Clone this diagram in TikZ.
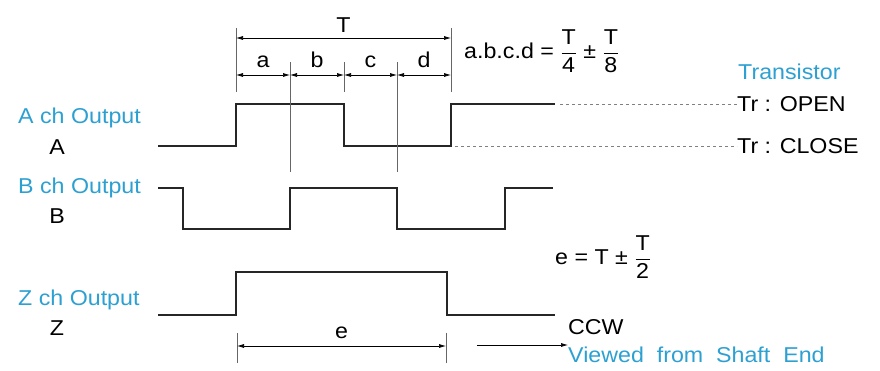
\documentclass[tikz,border=0pt]{standalone}
\usepackage{fontspec}
\setmainfont{Liberation Sans}[FakeStretch=1.08]
\usetikzlibrary{arrows.meta}
\definecolor{chblue}{RGB}{45,160,210}
\newcommand{\tfrac}[2]{$\displaystyle\frac{\mbox{#1}}{\mbox{#2}}$}
\tikzset{
  wave/.style={line width=1.4pt,black!85},
  guide/.style={line width=0.6pt,black!60},
  dim/.style={line width=0.7pt,{Latex[length=7pt,width=4pt]}-{Latex[length=7pt,width=4pt]}},
  lbl/.style={font=\fontsize{21.5}{25}\selectfont,inner sep=0pt},
  blu/.style={lbl,text=chblue},
  trline/.style={line width=0.6pt,black!50,dash pattern=on 3pt off 3pt}
}
\begin{document}
\begin{tikzpicture}[x=1pt,y=-1pt]
        \useasboundingbox (0,0) rectangle (880,371);
        % channel names
        \node[blu,anchor=west] (Aout) at (18,118) {A ch Output};
        \node[lbl] (A) at (57,147) {A};
        \node[blu,anchor=west] (Bout) at (18,188) {B ch Output};
        \node[lbl] (B) at (57,216) {B};
        \node[blu,anchor=west] (Zout) at (18,300) {Z ch Output};
        \node[lbl] (Z) at (57,328) {Z};
        % waveforms
        \draw[wave] (158,146) -| (236,104) -| (344,146) -| (451,104) -- (555,104);
        \draw[wave] (158,188) -| (183,229) -| (290,188) -| (397,229) -| (505,188) -- (553,188);
        \draw[wave] (158,315) -| (236,272) -| (447,315) -- (555,315);
        % guide lines
        \draw[guide] (236,28) -- (236,92);
        \draw[guide] (451,28) -- (451,92);
        \draw[guide] (344,62) -- (344,92);
        \draw[guide] (290,62) -- (290,172);
        \draw[guide] (397,62) -- (397,172);
        \draw[guide] (237,333) -- (237,363);
        \draw[guide] (446,333) -- (446,363);
        % dimensions
        \coordinate (t0) at (236,38);
        \coordinate (t1) at (451,38);
        \draw[dim] (t0) -- node[lbl,above=5pt] (T) {T} (t1);
        \coordinate (q0) at (236,75);
        \coordinate (q1) at (290,75);
        \coordinate (q2) at (344,75);
        \coordinate (q3) at (397,75);
        \coordinate (q4) at (451,75);
        \draw[dim] (q0) -- node[lbl,above=7pt] (a) {a} (q1);
        \draw[dim] (q1) -- node[lbl,above=7pt] (b) {b} (q2);
        \draw[dim] (q2) -- node[lbl,above=7pt] (c) {c} (q3);
        \draw[dim] (q3) -- node[lbl,above=7pt] (d) {d} (q4);
        \coordinate (e0) at (237,346);
        \coordinate (e1) at (446,346);
        \draw[dim] (e0) -- node[lbl,above=7pt] (e) {e} (e1);
        % formulas
        \node[lbl,anchor=west] (abcd) at (464,51) {a.b.c.d = \tfrac{T}{4} ± \tfrac{T}{8}};
        \node[lbl,anchor=west] (eq) at (555,257) {e = T ± \tfrac{T}{2}};
        % transistor states
        \node[blu,anchor=west] (tran) at (738,72) {Transistor};
        \node[lbl,anchor=west] (open) at (737,104) {Tr : OPEN};
        \node[lbl,anchor=west] (close) at (737,146) {Tr : CLOSE};
        \draw[trline] (560,104) -- (open.west);
        \draw[trline] (455,146) -- (close.west);
        % direction
        \node[lbl,anchor=west] (ccw) at (568,327) {CCW};
        \node[blu,anchor=west] (view) at (568,355) {Viewed\ \ from\ \ Shaft\ \ End};
        \coordinate (r0) at (477,345);
        \draw[line width=0.7pt,-{Latex[length=7pt,width=4pt]}] (r0) -- (view.west |- r0);
\end{tikzpicture}
\end{document}
